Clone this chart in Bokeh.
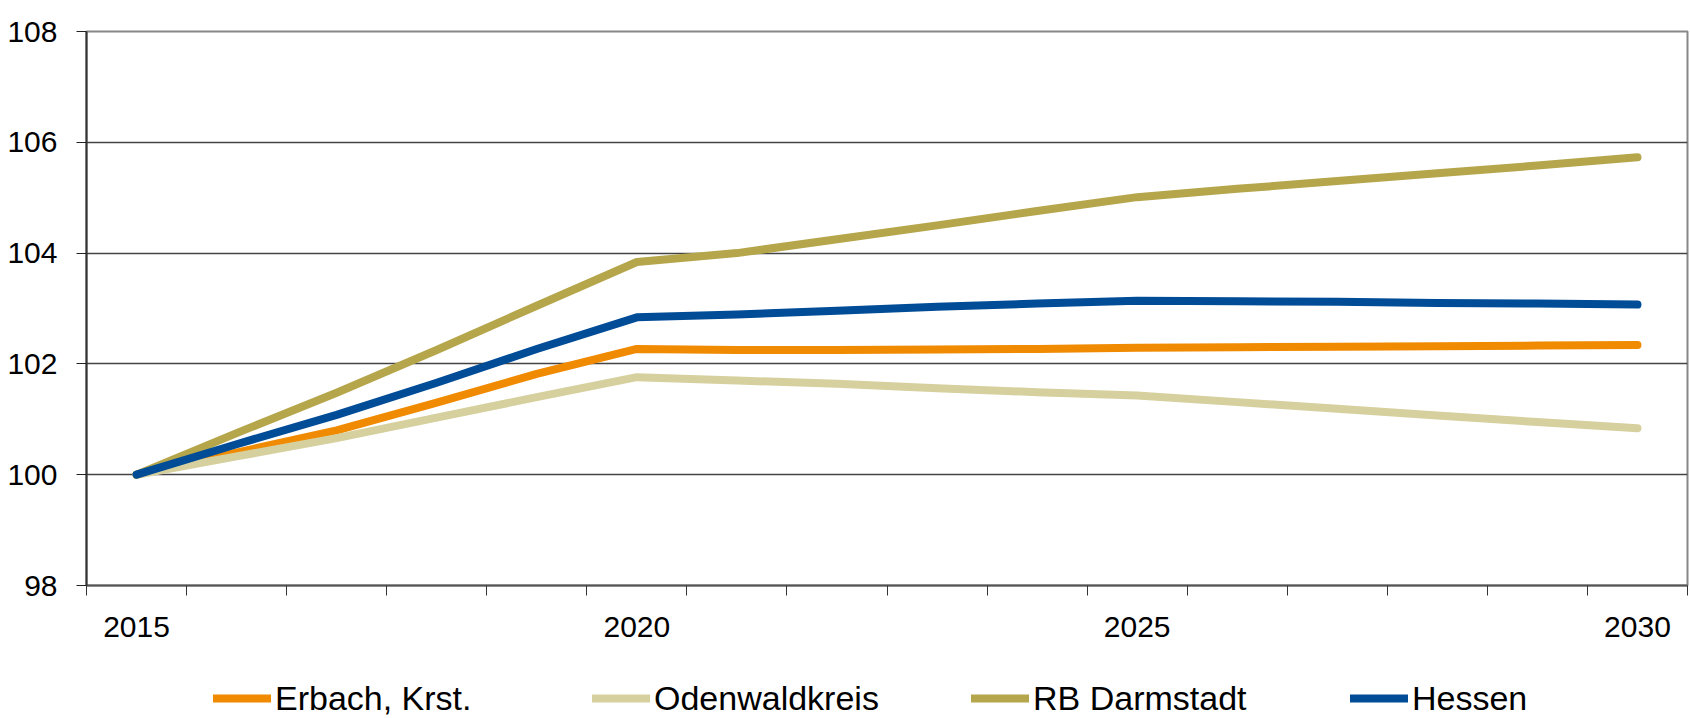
from bokeh.plotting import figure
from bokeh.layouts import column
from bokeh.models import FixedTicker, Legend, LegendItem, Range1d
from bokeh.embed import file_html
from bokeh.resources import INLINE

years = list(range(2015, 2031))
tick_labels = {2015: "2015", 2020: "2020", 2025: "2025", 2030: "2030"}
y_ticks = [98, 100, 102, 104, 106, 108]

erbach = [100.0, 100.40, 100.80, 101.30, 101.82, 102.27, 102.25, 102.25,
          102.26, 102.27, 102.29, 102.30, 102.31, 102.32, 102.33, 102.34]
odenwald = [100.0, 100.33, 100.66, 101.03, 101.40, 101.76, 101.70, 101.64,
            101.56, 101.49, 101.43, 101.31, 101.19, 101.07, 100.95, 100.84]
rb_darmstadt = [100.0, 100.75, 101.48, 102.25, 103.05, 103.84, 104.00, 104.25,
                104.50, 104.76, 105.01, 105.16, 105.30, 105.44, 105.58, 105.73]
hessen = [100.0, 100.55, 101.08, 101.66, 102.27, 102.84, 102.89, 102.96,
          103.03, 103.09, 103.14, 103.13, 103.12, 103.10, 103.09, 103.07]

series_names = ["Erbach, Krst.", "Odenwaldkreis", "RB Darmstadt", "Hessen"]
series_values = [erbach, odenwald, rb_darmstadt, hessen]
series_colors = ["#F08A00", "#D6D09E", "#B5A64B", "#004C97"]

FONT = "Liberation Sans"
LW = 8

p = figure(width=1690, height=645, output_backend="svg", toolbar_location=None,
           x_range=Range1d(2014.5, 2030.5), y_range=Range1d(98, 108),
           min_border_left=86, min_border_right=3, min_border_top=31,
           min_border_bottom=60)

p.background_fill_color = "white"
p.border_fill_color = "white"
p.outline_line_color = "#888888"
p.outline_line_width = 2

xa = p.xaxis[0]
xa.ticker = FixedTicker(ticks=[2015, 2020, 2025, 2030],
                        minor_ticks=[y + 0.5 for y in range(2014, 2031)])
xa.major_label_overrides = tick_labels
xa.major_tick_line_color = None
xa.major_tick_out = 0
xa.major_tick_in = 0
xa.minor_tick_line_color = "#333333"
xa.minor_tick_line_width = 1
xa.minor_tick_out = 10
xa.minor_tick_in = 0
xa.axis_line_color = "#555555"
xa.axis_line_width = 2
xa.major_label_text_font = FONT
xa.major_label_text_font_size = "30px"
xa.major_label_text_color = "black"
xa.major_label_standoff = 21

ya = p.yaxis[0]
ya.ticker = FixedTicker(ticks=y_ticks, minor_ticks=[])
ya.major_tick_line_color = "#222222"
ya.major_tick_out = 10
ya.major_tick_in = 0
ya.axis_line_color = "#333333"
ya.axis_line_width = 2
ya.major_label_text_font = FONT
ya.major_label_text_font_size = "30px"
ya.major_label_text_color = "black"
ya.major_label_standoff = 19

p.xgrid.grid_line_color = None
p.ygrid.ticker = FixedTicker(ticks=y_ticks)
p.ygrid.grid_line_color = "#444444"
p.ygrid.grid_line_width = 1.3

for vals, col in zip(series_values, series_colors):
    p.line(years, vals, line_color=col, line_width=LW, line_cap="round",
           line_join="round")

# legend strip below the chart (its frame is aligned with the chart's frame)
p2 = figure(width=1690, height=73, output_backend="svg", toolbar_location=None,
            x_range=Range1d(0, 1), y_range=Range1d(0, 1),
            min_border_left=86, min_border_right=3, min_border_top=0,
            min_border_bottom=0)
p2.axis.visible = False
p2.grid.visible = False
p2.outline_line_color = None
p2.background_fill_color = "white"
p2.border_fill_color = "white"

items = []
for name, vals, col in zip(series_names, series_values, series_colors):
    # same series, but outside this strip's ranges: only the legend sample shows
    r = p2.line(years, vals, line_color=col, line_width=LW, line_cap="round")
    items.append(LegendItem(label=name, renderers=[r]))

legend = Legend(items=items, orientation="horizontal", location=(127, 0),
                padding=0, margin=0, spacing=0,
                glyph_width=58, glyph_height=40, label_height=40,
                label_width=317, label_standoff=4,
                label_text_font=FONT, label_text_font_size="34px",
                label_text_color="black", label_text_baseline="middle",
                border_line_color=None, background_fill_alpha=0)
p2.add_layout(legend, "center")

layout = column(p, p2, spacing=0)
open("out.html", "w").write(file_html(layout, INLINE))
